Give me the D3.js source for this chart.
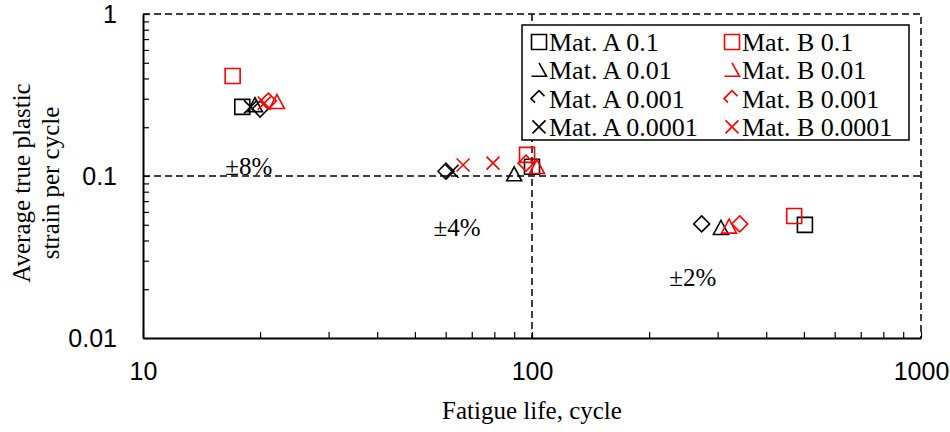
<!DOCTYPE html>
<html lang="en">
<head>
  <meta charset="UTF-8">
  <title>Fatigue life vs plastic strain</title>
  <script src="https://d3js.org/d3.v7.min.js"></script>
  <style>
    body { margin: 0; background: #fff; }
    svg { display: block; font-family: "Liberation Serif", "Times New Roman", serif; }
    .axis path, .axis line { stroke: #000; }
    .axis text { font-size: 25px; fill: #000; }
  </style>
</head>
<body>
  <svg id="chart"></svg>
  <script>
    // strain rates (legend order) and the two materials
    const rates = ["0.1", "0.01", "0.001", "0.0001"];
    const materials = ["Mat. A", "Mat. B"];

    // fatigue life (cycles) and average true plastic strain per cycle
    const lifeA_01 = [18.0, 100, 503];
    const strainA_01 = [0.267, 0.114, 0.0499];
    const lifeA_001 = [19.4, 90, 306];
    const strainA_001 = [0.27, 0.101, 0.0471];
    const lifeA_0001 = [20.0, 60.1, 273];
    const strainA_0001 = [0.259, 0.107, 0.0506];
    const lifeA_00001 = [18.9, 62.3];
    const strainA_00001 = [0.267, 0.107];

    const lifeB_01 = [17.0, 97.1, 472];
    const strainB_01 = [0.414, 0.135, 0.0566];
    const lifeB_001 = [22.1, 103, 321];
    const strainB_001 = [0.282, 0.112, 0.048];
    const lifeB_0001 = [21.0, 96.5, 342];
    const strainB_0001 = [0.29, 0.12, 0.0506];
    const lifeB_00001 = [20.5, 66.5, 79.4];
    const strainB_00001 = [0.282, 0.117, 0.12];

    // scatter band labels (life, strain, text)
    const bandLife = [18.7, 64.2, 259];
    const bandStrain = [0.101, 0.0426, 0.0209];
    const bandText = ["\u00b18%", "\u00b14%", "\u00b12%"];

    const xTicks = [10, 100, 1000];
    const yTicks = [0.01, 0.1, 1];

    const series = [
      { mat: 0, rate: 0, life: lifeA_01, strain: strainA_01 },
      { mat: 0, rate: 1, life: lifeA_001, strain: strainA_001 },
      { mat: 0, rate: 2, life: lifeA_0001, strain: strainA_0001 },
      { mat: 0, rate: 3, life: lifeA_00001, strain: strainA_00001 },
      { mat: 1, rate: 0, life: lifeB_01, strain: strainB_01 },
      { mat: 1, rate: 1, life: lifeB_001, strain: strainB_001 },
      { mat: 1, rate: 2, life: lifeB_0001, strain: strainB_0001 },
      { mat: 1, rate: 3, life: lifeB_00001, strain: strainB_00001 }
    ];

    const colors = ["#000000", "#ff0000"];
    const width = 950, height = 432;
    const plotL = 143, plotR = 921, plotT = 14, plotB = 338;

    const svg = d3.select("#chart").attr("width", width).attr("height", height);

    const x = d3.scaleLog().domain([10, 1000]).range([plotL, plotR]);
    const y = d3.scaleLog().domain([0.01, 1]).range([plotB, plotT]);

    // all decade subdivisions for the inside ticks
    const minorX = d3.range(1, 3).flatMap(p => d3.range(1, 10).map(m => m * 10 ** p)).concat([1000]);
    const minorY = d3.range(-2, 0).flatMap(p => d3.range(1, 10).map(m => +(m * 10 ** p).toPrecision(3))).concat([1]);

    // marker paths, centred on 0,0
    function shapePath(rate) {
      if (rate === 0) return "M-7.5,-7.5H7.5V7.5H-7.5Z";
      if (rate === 1) return "M0,-8.5L7.5,5.5H-7.5Z";
      if (rate === 2) return "M0,-8L8,0L0,8L-8,0Z";
      return "M-6.5,-6.5L6.5,6.5M6.5,-6.5L-6.5,6.5";
    }
    // the legend shows clipped versions of triangle and diamond
    function legendPath(rate) {
      if (rate === 1) return "M0,-7.5L7.5,6H-7.5";
      if (rate === 2) return "M5.5,-2.5L0,-8L-8,0L-4,4";
      return shapePath(rate);
    }

    // reference dashed lines and dashed top/right frame
    const dash = "7,4";
    svg.append("line")
      .attr("x1", plotL).attr("x2", plotR)
      .attr("y1", y(0.1)).attr("y2", y(0.1))
      .attr("stroke", "#000").attr("stroke-width", 1.5).attr("stroke-dasharray", dash);
    svg.append("line")
      .attr("x1", x(100)).attr("x2", x(100))
      .attr("y1", plotT).attr("y2", plotB)
      .attr("stroke", "#000").attr("stroke-width", 1.5).attr("stroke-dasharray", dash);
    svg.append("path")
      .attr("d", `M${plotL},${plotT}H${plotR}V${plotB}`)
      .attr("fill", "none").attr("stroke", "#000").attr("stroke-width", 1.5).attr("stroke-dasharray", dash);

    // axes with inside ticks
    const yAxis = d3.axisLeft(y)
      .tickValues(minorY)
      .tickSizeInner(-6).tickSizeOuter(0).tickPadding(26)
      .tickFormat(d => yTicks.includes(d) ? String(d) : "");
    svg.append("g").attr("class", "axis")
      .attr("transform", `translate(${plotL},0)`)
      .call(yAxis)
      .call(g => g.select(".domain").attr("stroke-width", 2))
      .call(g => g.selectAll("line").attr("stroke-width", 1.2))
      .call(g => g.selectAll("text").attr("dy", "0.34em"));

    const xAxis = d3.axisBottom(x)
      .tickValues(minorX)
      .tickSizeInner(-6).tickSizeOuter(0).tickPadding(24)
      .tickFormat(d => xTicks.includes(d) ? String(d) : "");
    svg.append("g").attr("class", "axis")
      .attr("transform", `translate(0,${plotB})`)
      .call(xAxis)
      .call(g => g.select(".domain").attr("stroke-width", 2))
      .call(g => g.selectAll("line").attr("stroke-width", 1.2));

    // axis titles
    svg.append("text")
      .attr("x", (plotL + plotR) / 2).attr("y", 419)
      .attr("text-anchor", "middle").attr("font-size", 25)
      .text("Fatigue life, cycle");
    const yTitle = svg.append("g").attr("transform", "translate(0,183) rotate(-90)")
      .attr("font-size", 25).attr("text-anchor", "middle");
    yTitle.append("text").attr("x", 0).attr("y", 30).text("Average true plastic");
    yTitle.append("text").attr("x", 0).attr("y", 59).text("strain per cycle");

    // band labels
    svg.selectAll(".band")
      .data(bandText)
      .enter()
      .append("text")
      .attr("class", "band")
      .attr("x", (_, i) => x(bandLife[i]))
      .attr("y", (_, i) => y(bandStrain[i]))
      .attr("text-anchor", "middle").attr("font-size", 25)
      .text(d => d);

    // markers
    series.forEach(s => {
      svg.append("g")
        .selectAll("path")
        .data(s.life.map((l, i) => [l, s.strain[i]]))
        .enter()
        .append("path")
        .attr("transform", d => `translate(${x(d[0])},${y(d[1])})`)
        .attr("d", shapePath(s.rate))
        .attr("fill", "none")
        .attr("stroke", colors[s.mat])
        .attr("stroke-width", 1.6);
    });

    // legend
    const legend = svg.append("g");
    legend.append("rect")
      .attr("x", 522).attr("y", 25).attr("width", 387).attr("height", 115)
      .attr("fill", "#fff").attr("stroke", "#000").attr("stroke-width", 1.5);
    const colX = [539, 732];
    series.forEach(s => {
      const cy = 42 + s.rate * 28.3;
      legend.append("path")
        .attr("transform", `translate(${colX[s.mat]},${cy})`)
        .attr("d", legendPath(s.rate))
        .attr("fill", "none")
        .attr("stroke", colors[s.mat])
        .attr("stroke-width", 1.6);
      legend.append("text")
        .attr("x", colX[s.mat] + 10).attr("y", cy + 9)
        .attr("font-size", 26)
        .text(`${materials[s.mat]} ${rates[s.rate]}`);
    });
  </script>
</body>
</html>
